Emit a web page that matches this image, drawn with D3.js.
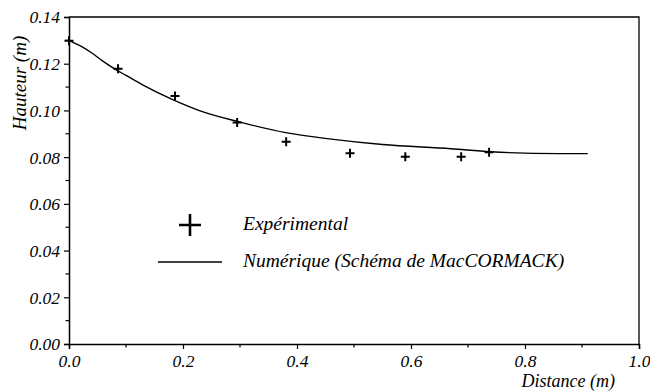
<!DOCTYPE html>
<html><head><meta charset="utf-8">
<script src="https://cdn.jsdelivr.net/npm/d3@7"></script>
<style>body{margin:0;background:#fff}</style>
</head><body><svg id="c" width="650" height="391"></svg>
<script>
const expX = [0.0, 0.086, 0.186, 0.295, 0.381, 0.493, 0.590, 0.688, 0.737];
const expY = [0.1298, 0.1178, 0.1062, 0.0948, 0.0866, 0.0817, 0.0802, 0.0802, 0.0821];
const numX = [0.0, 0.02, 0.04, 0.06, 0.08, 0.10, 0.13, 0.18, 0.23, 0.30, 0.38, 0.46, 0.55, 0.67, 0.74, 0.86, 0.91];
const numY = [0.1300, 0.1276, 0.1246, 0.1210, 0.1178, 0.1150, 0.1108, 0.1048, 0.0998, 0.0950, 0.0905, 0.0877, 0.0854, 0.0836, 0.0823, 0.0815, 0.0815];
const xTicks = [0.0, 0.2, 0.4, 0.6, 0.8, 1.0];
const yTicks = [0.00, 0.02, 0.04, 0.06, 0.08, 0.10, 0.12, 0.14];
const legendLabels = ["Expérimental", "Numérique (Schéma de MacCORMACK)"];

const FONT = "Liberation Serif";
const svg = d3.select("#c").attr("font-family", FONT).attr("font-style", "italic");
const L = 69, R = 639, T = 17, B = 344;
const x = d3.scaleLinear().domain([0, 1]).range([L, R]);
const y = d3.scaleLinear().domain([0, 0.14]).range([B, T]);

svg.append("path").attr("d", `M${L},${T}H${R}V${B}`).attr("fill","none").attr("stroke","#000").attr("stroke-width",1.3);

const xAxis = d3.axisBottom(x).tickValues(xTicks).tickFormat(d3.format(".1f")).tickSize(5).tickPadding(6);
const gx = svg.append("g").attr("transform", `translate(0,${B})`).call(xAxis);
const yAxis = d3.axisLeft(y).tickValues(yTicks).tickFormat(d3.format(".2f")).tickSize(5).tickPadding(4);
const gy = svg.append("g").attr("transform", `translate(${L},0)`).call(yAxis);
[gx, gy].forEach(g => {
  g.attr("font-family", FONT).attr("font-size", 17.5).attr("font-style", "italic");
  g.select(".domain").attr("stroke-width", 1.5);
  g.selectAll(".tick line").attr("stroke-width", 1.2);
  g.selectAll(".tick text").attr("font-family", FONT).attr("font-style","italic").attr("font-size", 17.5).attr("fill","#000");
});
gx.selectAll(".tick text").attr("y", 23).attr("dy", 0);
gy.selectAll(".tick text").attr("dy", "0.34em");
const xMinor = d3.range(0.1, 1.0, 0.2);
gx.selectAll(".minor").data(xMinor).enter().append("line")
  .attr("x1", d => x(d)).attr("x2", d => x(d)).attr("y1", 0).attr("y2", 3.5).attr("stroke","#000").attr("stroke-width",1.2);
const yMinor = d3.range(0.01, 0.14, 0.02);
gy.selectAll(".minor").data(yMinor).enter().append("line")
  .attr("y1", d => y(d)).attr("y2", d => y(d)).attr("x1", 0).attr("x2", -3.5).attr("stroke","#000").attr("stroke-width",1.2);

function txt(sel){ return sel.attr("font-family", FONT).attr("font-style","italic"); }
txt(svg.append("text")).attr("transform", `translate(26,83) rotate(-90)`).attr("text-anchor","middle")
  .attr("font-size", 19).text("Hauteur (m)");
txt(svg.append("text")).attr("x", 615).attr("y", 387).attr("text-anchor","end").attr("font-size", 18).text("Distance (m)");

const line = d3.line().x(d => x(d[0])).y(d => y(d[1])).curve(d3.curveMonotoneX);
svg.append("path").datum(numX.map((v,i)=>[v, numY[i]])).attr("d", line)
  .attr("fill","none").attr("stroke","#000").attr("stroke-width",1.4);

const s = 4.5;
const pts = svg.append("g");
expX.forEach((v,i) => {
  const cx = x(v), cy = y(expY[i]);
  pts.append("path").attr("d", `M${cx-s},${cy}H${cx+s}M${cx},${cy-s}V${cy+s}`)
    .attr("stroke","#000").attr("stroke-width",2).attr("fill","none");
});

const lp = svg.append("g");
lp.append("path").attr("d", `M179,225H201M190,214V236`).attr("stroke","#000").attr("stroke-width",2.6);
txt(lp.append("text")).attr("x", 243).attr("y", 230).attr("font-size", 19.5).text(legendLabels[0]);
lp.append("line").attr("x1",158).attr("x2",222).attr("y1",262).attr("y2",262).attr("stroke","#000").attr("stroke-width",1.4);
txt(lp.append("text")).attr("x", 243).attr("y", 267).attr("font-size", 19.5).text(legendLabels[1]);
</script></body></html>
